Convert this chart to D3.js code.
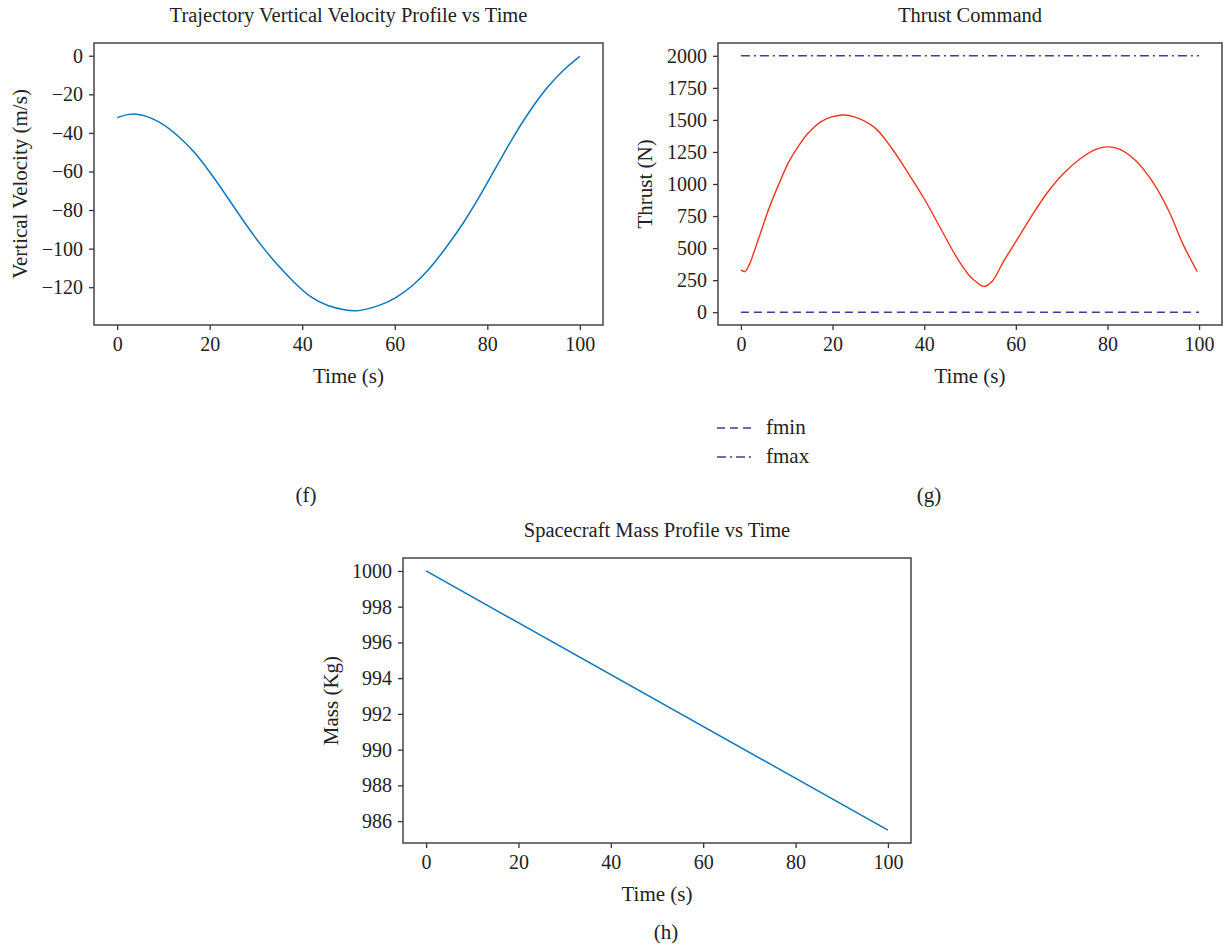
<!DOCTYPE html>
<html>
<head>
<meta charset="utf-8">
<script src="https://cdn.jsdelivr.net/npm/d3@7"></script>
<style>
  body { margin: 0; background: #fff; }
  text { font-family: "Liberation Serif", "Times New Roman", serif; fill: #222; }
</style>
</head>
<body>
<div id="chart"></div>
<script>
// velocity profile (f)
var velTime = [0, 3.8, 9.3, 13.6, 16.5, 20.1, 23.8, 27.4, 31, 34.6, 38.3, 41.9, 45.5, 49.3, 51.8, 56.5, 60, 63.8, 67.4, 71, 74.6, 78.3, 81.9, 85.5, 89.1, 92.8, 96.4, 100];
var velValue = [-32.1, -29, -33.8, -42.4, -49.2, -60.4, -73.2, -86.1, -98.1, -108.4, -117.8, -125.6, -129.8, -131.9, -132.8, -129.8, -126.1, -119.6, -111, -99.8, -87.8, -73.2, -57.8, -42.4, -28.6, -16.6, -7.2, -0.3];

// thrust command (g)
var thrustTime = [0, 0.9, 1.8, 4, 6.1, 8.3, 10.4, 12.6, 14.8, 17.7, 22, 24.9, 29.2, 32.8, 36.4, 40, 43.6, 47.2, 49.7, 50.8, 53, 54.8, 57.3, 60.2, 63.1, 66.7, 70.3, 74, 77.6, 80, 82.6, 86.2, 89.9, 93.5, 96.4, 99.6];
var thrustValue = [330, 317, 369, 588, 807, 1001, 1169, 1298, 1401, 1491, 1538, 1522, 1440, 1285, 1091, 885, 653, 421, 292, 253, 201, 240, 395, 562, 730, 924, 1078, 1195, 1272, 1290, 1272, 1182, 1014, 782, 537, 317];
var fminValue = 0;
var fmaxValue = 2000;

// mass profile (h)
var massTime = [0, 100];
var massValue = [1000, 985.5];

var timeTicks = [0, 20, 40, 60, 80, 100];
var velTicks = [0, -20, -40, -60, -80, -100, -120];
var thrustTicks = [0, 250, 500, 750, 1000, 1250, 1500, 1750, 2000];
var massTicks = [986, 988, 990, 992, 994, 996, 998, 1000];

var svg = d3.select("#chart").append("svg")
  .attr("width", 1226)
  .attr("height", 947);

svg.append("rect").attr("width", 1226).attr("height", 947).attr("fill", "#fff");

// one panel: box, ticks, labels
function panel(opt) {
  var x = d3.scaleLinear().domain(opt.xDomain).range([opt.left, opt.right]);
  var y = d3.scaleLinear().domain(opt.yDomain).range([opt.bottom, opt.top]);

  var g = svg.append("g");

  var xAxis = g.append("g")
    .attr("transform", `translate(0, ${opt.bottom})`)
    .call(d3.axisBottom(x).tickValues(timeTicks).tickSize(5).tickPadding(7));
  var yAxis = g.append("g")
    .attr("transform", `translate(${opt.left}, 0)`)
    .call(d3.axisLeft(y).tickValues(opt.yTicks).tickSize(5).tickPadding(6).tickFormat(opt.fmt || d3.format("d")));

  [xAxis, yAxis].forEach(function(a) {
    a.select(".domain").remove();
    a.selectAll("line").attr("stroke", "#333").attr("stroke-width", 1.3);
    a.selectAll("text").style("font-size", "20px").attr("fill", "#222");
  });

  g.append("rect")
    .attr("x", opt.left).attr("y", opt.top)
    .attr("width", opt.right - opt.left).attr("height", opt.bottom - opt.top)
    .attr("fill", "none").attr("stroke", "#444").attr("stroke-width", 1.5);

  g.append("text")
    .attr("x", (opt.left + opt.right) / 2).attr("y", opt.top - 21)
    .attr("text-anchor", "middle").style("font-size", "20.5px")
    .text(opt.title);

  g.append("text")
    .attr("x", (opt.left + opt.right) / 2).attr("y", opt.bottom + 58)
    .attr("text-anchor", "middle").style("font-size", "21px")
    .text("Time (s)");

  g.append("text")
    .attr("transform", `translate(${opt.yLabelX}, ${(opt.top + opt.bottom) / 2}) rotate(-90)`)
    .attr("text-anchor", "middle").style("font-size", "21px")
    .text(opt.yLabel);

  return { x: x, y: y, g: g };
}

// (f)
var pf = panel({
  left: 94, right: 603, top: 43, bottom: 325,
  xDomain: [-5, 105], yDomain: [-139.6, 6.6],
  yTicks: velTicks, title: "Trajectory Vertical Velocity Profile vs Time",
  yLabel: "Vertical Velocity (m/s)", yLabelX: 27,
  fmt: function(d) { return d < 0 ? "\u2212" + Math.abs(d) : d; }
});
pf.g.append("path")
  .datum(d3.zip(velTime, velValue))
  .attr("fill", "none").attr("stroke", "#0a78bd").attr("stroke-width", 1.5)
  .attr("d", d3.line().x(d => pf.x(d[0])).y(d => pf.y(d[1])).curve(d3.curveBasis));

// (g)
var pg = panel({
  left: 718, right: 1222, top: 43, bottom: 325,
  xDomain: [-5, 105], yDomain: [-100, 2100],
  yTicks: thrustTicks, title: "Thrust Command",
  yLabel: "Thrust (N)", yLabelX: 652
});
var limLine = d3.line().x(d => pg.x(d[0])).y(d => pg.y(d[1]));
pg.g.append("path")
  .datum([[0, fminValue], [100, fminValue]])
  .attr("fill", "none").attr("stroke", "#3f3d9f").attr("stroke-width", 1.5)
  .attr("stroke-dasharray", "8,5")
  .attr("d", limLine);
pg.g.append("path")
  .datum([[0, fmaxValue], [100, fmaxValue]])
  .attr("fill", "none").attr("stroke", "#3f3d9f").attr("stroke-width", 1.5)
  .attr("stroke-dasharray", "9,4,2,4")
  .attr("d", limLine);
pg.g.append("path")
  .datum(d3.zip(thrustTime, thrustValue))
  .attr("fill", "none").attr("stroke", "#f0361a").attr("stroke-width", 1.4)
  .attr("d", d3.line().x(d => pg.x(d[0])).y(d => pg.y(d[1])).curve(d3.curveCatmullRom));

// legend
var legend = svg.append("g");
[["fmin", "8,5"], ["fmax", "9,4,2,4"]].forEach(function(item, i) {
  var ly = 428 + i * 29;
  legend.append("line")
    .attr("x1", 717).attr("x2", 753).attr("y1", ly).attr("y2", ly)
    .attr("stroke", "#3f3d9f").attr("stroke-width", 1.5)
    .attr("stroke-dasharray", item[1]);
  legend.append("text")
    .attr("x", 766).attr("y", ly + 6)
    .style("font-size", "21px")
    .text(item[0]);
});

// (h)
var ph = panel({
  left: 403, right: 911, top: 558, bottom: 843,
  xDomain: [-5, 105], yDomain: [984.775, 1000.725],
  yTicks: massTicks, title: "Spacecraft Mass Profile vs Time",
  yLabel: "Mass (Kg)", yLabelX: 338
});
ph.g.append("path")
  .datum(d3.zip(massTime, massValue))
  .attr("fill", "none").attr("stroke", "#0a78bd").attr("stroke-width", 1.5)
  .attr("d", d3.line().x(d => ph.x(d[0])).y(d => ph.y(d[1])));

// sub-figure labels
[["(f)", 306, 502], ["(g)", 929, 502], ["(h)", 666, 939]].forEach(function(s) {
  svg.append("text")
    .attr("x", s[1]).attr("y", s[2])
    .attr("text-anchor", "middle").style("font-size", "21px")
    .text(s[0]);
});
</script>
</body>
</html>
